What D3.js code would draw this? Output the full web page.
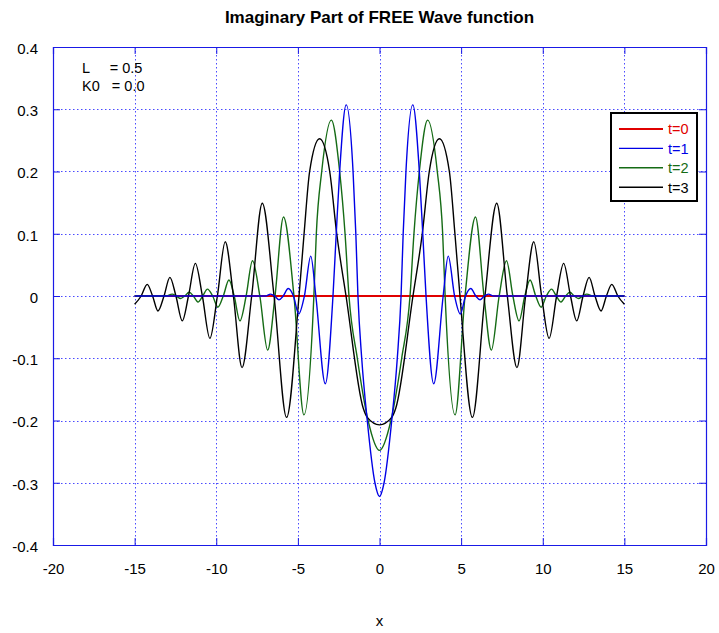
<!DOCTYPE html>
<html>
<head>
<meta charset="utf-8">
<script src="https://cdn.jsdelivr.net/npm/d3@7"></script>
<style>
  html, body { margin: 0; padding: 0; background: #fff; }
  svg { display: block; font-family: "Liberation Sans", Arial, sans-serif; }
</style>
</head>
<body>
<svg id="chart" width="719" height="633"></svg>
<script>
// Axis ticks
const xTicks = [-20, -15, -10, -5, 0, 5, 10, 15, 20];
const xTickLabels = ["-20", "-15", "-10", "-5", "0", "5", "10", "15", "20"];
const yTicks = [-0.4, -0.3, -0.2, -0.1, 0, 0.1, 0.2, 0.3, 0.4];
const yTickLabels = ["-0.4", "-0.3", "-0.2", "-0.1", "0", "0.1", "0.2", "0.3", "0.4"];

// Series names and colours
const seriesNames = ["t=0", "t=1", "t=2", "t=3"];
const seriesColors = ["#e00000", "#0000e6", "#156b15", "#000000"];

// Parameters shown in the corner
const paramNames = ["L     ", "K0   "];
const paramValues = ["= 0.5", "= 0.0"];

// t = 0 : imaginary part is zero everywhere
const xT0 = [-15, 15];
const yT0 = [0, 0];

// t = 1
const xT1 = [-15, -7.0, -6.67, -6.42, -6.16, -5.9, -5.59, -5.27, -4.95, -4.6, -4.21, -3.9, -3.32, -2.85, -2.65, -2.44, -2.04, -1.62, -1.45, -1.32, -1.09, -0.75, -0.28, 0,
             0.28, 0.75, 1.09, 1.32, 1.45, 1.62, 2.04, 2.44, 2.65, 2.85, 3.32, 3.9, 4.21, 4.6, 4.95, 5.27, 5.59, 5.9, 6.16, 6.42, 6.67, 7.0, 15];
const yT1 = [0, 0, 0.003, 0, -0.006, 0, 0.012, 0, -0.029, 0, 0.064, 0, -0.141, 0, 0.10, 0.20, 0.307, 0.20, 0.10, 0, -0.10, -0.20, -0.30, -0.322,
             -0.30, -0.20, -0.10, 0, 0.10, 0.20, 0.307, 0.20, 0.10, 0, -0.141, 0, 0.064, 0, -0.029, 0, 0.012, 0, -0.006, 0, 0.003, 0, 0];

// t = 2
const xT2 = [-15, -13.1, -12.7, -12.45, -12.18, -11.93, -11.66, -11.4, -11.12, -10.83, -10.54, -10.22, -9.9, -9.57, -9.22, -8.9, -8.55, -8.17, -7.78, -7.33, -6.85, -6.4, -5.88, -5.24, -4.63, -4.02, -3.87, -3.54, -2.95, -2.44, -2.11, -1.87, -1.36, -0.7, 0,
             0.7, 1.36, 1.87, 2.11, 2.44, 2.95, 3.54, 3.87, 4.02, 4.63, 5.24, 5.88, 6.4, 6.85, 7.33, 7.78, 8.17, 8.55, 8.9, 9.22, 9.57, 9.9, 10.22, 10.54, 10.83, 11.12, 11.4, 11.66, 11.93, 12.18, 12.45, 12.7, 13.1, 15];
const yT2 = [0, 0, 0.003, 0, -0.004, 0, 0.006, 0, -0.0096, 0, 0.011, 0, -0.018, 0, 0.0257, 0, -0.040, 0, 0.0567, 0, -0.087, 0, 0.127, 0, -0.191, 0, 0.10, 0.20, 0.2825, 0.20, 0.10, 0, -0.10, -0.20, -0.248,
             -0.20, -0.10, 0, 0.10, 0.20, 0.2825, 0.20, 0.10, 0, -0.191, 0, 0.127, 0, -0.087, 0, 0.0567, 0, -0.040, 0, 0.0257, 0, -0.018, 0, 0.011, 0, -0.0096, 0, 0.006, 0, -0.004, 0, 0.003, 0, 0];

// t = 3
const xT3 = [-15, -14.6, -14.23, -13.9, -13.57, -13.2, -12.84, -12.47, -12.08, -11.7, -11.28, -10.85, -10.39, -9.93, -9.45, -8.95, -8.42, -7.83, -7.18, -6.46, -5.69, -4.93, -4.62, -4.28, -3.67, -3.05, -2.62, -2.05, -1.0, -0.75, 0,
             0.75, 1.0, 2.05, 2.62, 3.05, 3.67, 4.28, 4.62, 4.93, 5.69, 6.46, 7.18, 7.83, 8.42, 8.95, 9.45, 9.93, 10.39, 10.85, 11.28, 11.7, 12.08, 12.47, 12.84, 13.2, 13.57, 13.9, 14.23, 14.6, 15];
const yT3 = [-0.0134, 0, 0.0187, 0, -0.024, 0, 0.030, 0, -0.040, 0, 0.0524, 0, -0.068, 0, 0.0872, 0, -0.115, 0, 0.149, 0, -0.195, 0, 0.10, 0.20, 0.2525, 0.20, 0.10, 0, -0.18, -0.195, -0.207,
             -0.195, -0.18, 0, 0.10, 0.20, 0.2525, 0.20, 0.10, 0, -0.195, 0, 0.149, 0, -0.115, 0, 0.0872, 0, -0.068, 0, 0.0524, 0, -0.040, 0, 0.030, 0, -0.024, 0, 0.0187, 0, -0.0134];

const seriesX = [xT0, xT1, xT2, xT3];
const seriesY = [yT0, yT1, yT2, yT3];
const lineWidths = [2.2, 1.4, 1.4, 1.4];

const svg = d3.select("#chart");
const plotLeft = 53, plotRight = 706, plotTop = 47, plotBottom = 545;

const x = d3.scaleLinear().domain([-20, 20]).range([plotLeft, plotRight]);
const y = d3.scaleLinear().domain([-0.4, 0.4]).range([plotBottom, plotTop]);

svg.append("rect").attr("width", 719).attr("height", 633).attr("fill", "#fff");

// Title
svg.append("text")
  .attr("x", (plotLeft + plotRight) / 2).attr("y", 23)
  .attr("text-anchor", "middle")
  .attr("font-size", 17).attr("font-weight", "bold")
  .text("Imaginary Part of FREE Wave function");

// Dotted grid
const gridColor = "#4b4bff";
const grid = svg.append("g").attr("stroke", gridColor).attr("stroke-width", 1).attr("stroke-dasharray", "1.5,2.5");
grid.selectAll("line.gx").data(xTicks.slice(1, -1)).join("line")
  .attr("x1", d => Math.round(x(d)) + 0.5).attr("x2", d => Math.round(x(d)) + 0.5)
  .attr("y1", plotTop).attr("y2", plotBottom);
grid.selectAll("line.gy").data(yTicks.slice(1, -1)).join("line")
  .attr("y1", d => Math.round(y(d)) + 0.5).attr("y2", d => Math.round(y(d)) + 0.5)
  .attr("x1", plotLeft).attr("x2", plotRight);

// Axes with inward ticks on all four sides
const frameColor = "#1a1ae6";
const fmtX = d => xTickLabels[xTicks.indexOf(d)];
const fmtY = d => yTickLabels[yTicks.indexOf(d)];
const axisB = d3.axisBottom(x).tickValues(xTicks).tickSize(-7).tickPadding(18).tickFormat(fmtX);
const axisT = d3.axisTop(x).tickValues(xTicks).tickSize(-7).tickFormat("");
const axisL = d3.axisLeft(y).tickValues(yTicks).tickSize(-7).tickPadding(15).tickFormat(fmtY);
const axisR = d3.axisRight(y).tickValues(yTicks).tickSize(-7).tickFormat("");

function styleAxis(g) {
  g.select(".domain").attr("stroke", frameColor).attr("stroke-width", 1.2);
  g.selectAll(".tick line").attr("stroke", frameColor).attr("stroke-width", 1);
  g.selectAll(".tick text").attr("fill", "#000").attr("font-size", 15)
    .attr("font-family", "Liberation Sans, Arial, sans-serif");
}
svg.append("g").attr("transform", `translate(0,${plotBottom})`).call(axisB).call(styleAxis);
svg.append("g").attr("transform", `translate(0,${plotTop})`).call(axisT).call(styleAxis);
svg.append("g").attr("transform", `translate(${plotLeft},0)`).call(axisL).call(styleAxis)
  .selectAll(".tick text").attr("dy", "0.42em");
svg.append("g").attr("transform", `translate(${plotRight},0)`).call(axisR).call(styleAxis);

// X axis label
svg.append("text").attr("x", (plotLeft + plotRight) / 2).attr("y", 626)
  .attr("text-anchor", "middle").attr("font-size", 15).text("x");

// Parameter annotation (spaces kept as typed)
const ann = svg.append("g").attr("font-size", 14.5);
paramNames.forEach((n, i) => {
  ann.append("text").attr("x", 82).attr("y", 73 + i * 17.5)
    .attr("xml:space", "preserve")
    .text(n + paramValues[i]);
});

// Curves
const line = d3.line().curve(d3.curveMonotoneX);
const curves = svg.append("g").attr("fill", "none");
const drawOrder = [0, 2, 3, 1];
drawOrder.forEach(i => {
  const pts = seriesX[i].map((v, k) => [x(v), y(seriesY[i][k])]);
  curves.append("path")
    .attr("d", line(pts))
    .attr("stroke", seriesColors[i])
    .attr("stroke-width", lineWidths[i])
    .attr("stroke-linejoin", "round");
});

// Legend
const lg = svg.append("g");
lg.append("rect").attr("x", 611).attr("y", 113).attr("width", 86).attr("height", 88)
  .attr("fill", "#fff").attr("stroke", "#000").attr("stroke-width", 2);
seriesNames.forEach((n, i) => {
  const yy = 129 + i * 19.4;
  lg.append("line").attr("x1", 619).attr("x2", 663).attr("y1", yy).attr("y2", yy)
    .attr("stroke", seriesColors[i]).attr("stroke-width", lineWidths[i]);
  lg.append("text").attr("x", 668).attr("y", yy + 5.3).attr("font-size", 14.5)
    .attr("fill", seriesColors[i]).text(n);
});
</script>
</body>
</html>
